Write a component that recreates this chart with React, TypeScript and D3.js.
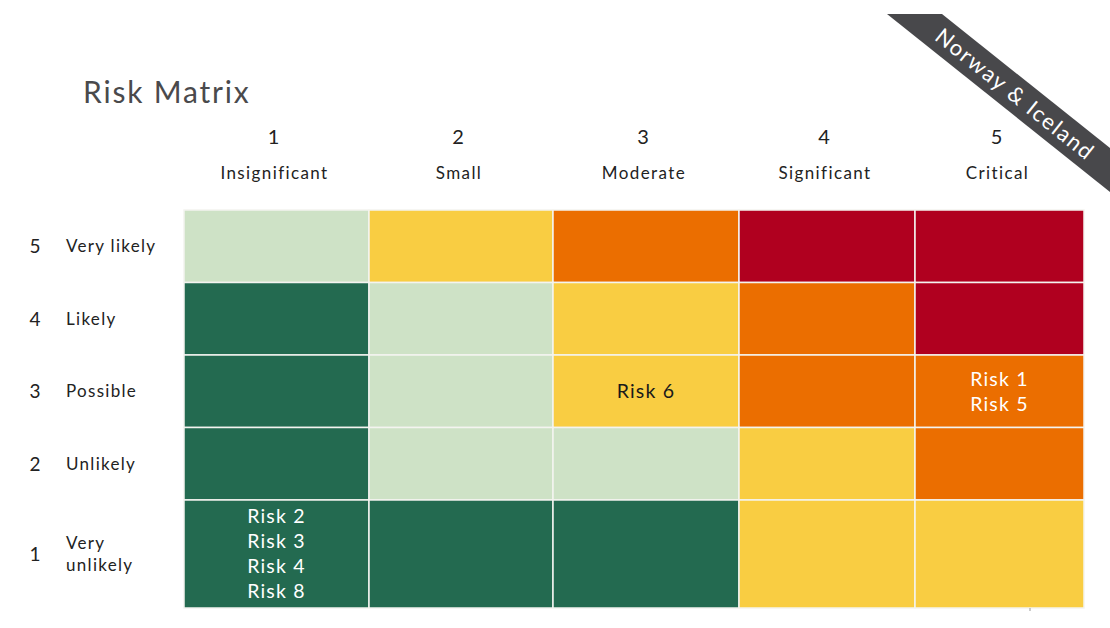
import React from "react";
import * as d3 from "d3";

// Impact (columns) and likelihood (rows)
const IMPACT_NUMS = [1, 2, 3, 4, 5];
const IMPACT_LABELS = ["Insignificant", "Small", "Moderate", "Significant", "Critical"];
const LIKELIHOOD_NUMS = [5, 4, 3, 2, 1];
const LIKELIHOOD_LABELS = [["Very likely"], ["Likely"], ["Possible"], ["Unlikely"], ["Very", "unlikely"]];

// Risk level per cell, rows top (5) to bottom (1), columns 1..5
const LEVELS = [
  [1, 2, 3, 4, 4],
  [0, 1, 2, 3, 4],
  [0, 1, 2, 3, 3],
  [0, 1, 1, 2, 3],
  [0, 0, 0, 2, 2],
];

// Risks placed on the grid: [name, likelihood, impact]
const RISKS: [string, number, number][] = [
  ["Risk 1", 3, 5],
  ["Risk 5", 3, 5],
  ["Risk 6", 3, 3],
  ["Risk 2", 1, 1],
  ["Risk 3", 1, 1],
  ["Risk 4", 1, 1],
  ["Risk 8", 1, 1],
];

// relative sizes of columns / rows as in the original slide
const COL_WEIGHTS = [185, 184, 186, 176, 169];
const ROW_WEIGHTS = [1, 1, 1, 1, 1.49];

const LEVEL_COLORS = ["#236a50", "#cee2c6", "#f9cd42", "#eb6e00", "#b0001f"];
const LEVEL_TEXT = ["#ffffff", "#1a1a1a", "#1a1a1a", "#ffffff", "#ffffff"];

const FONT = "Lato, 'Open Sans', sans-serif";

export default function App() {
  const W = 1110;
  const H = 628;
  const left = 184, right = 1084, top = 210, bottom = 608;

  const colEdges = d3.cumsum([0, ...COL_WEIGHTS]);
  const rowEdges = d3.cumsum([0, ...ROW_WEIGHTS]);
  const x = d3.scaleLinear().domain([0, d3.sum(COL_WEIGHTS)]).range([left, right]);
  const y = d3.scaleLinear().domain([0, d3.sum(ROW_WEIGHTS)]).range([top, bottom]);

  const colX = (i: number) => x(colEdges[i]);
  const colMid = (i: number) => (x(colEdges[i]) + x(colEdges[i + 1])) / 2;
  const rowY = (j: number) => y(rowEdges[j]);
  const rowMid = (j: number) => (y(rowEdges[j]) + y(rowEdges[j + 1])) / 2;

  // group risks per cell
  const grouped = d3.group(RISKS, (d) => `${d[1]}-${d[2]}`);

  // ribbon in the top right corner
  const angle = 38.6;
  const slope = Math.tan((angle * Math.PI) / 180);
  const rx0 = 887, rx1 = 942, ry = 14;
  const ribbon = d3.path();
  ribbon.moveTo(rx0, ry);
  ribbon.lineTo(rx1, ry);
  ribbon.lineTo(W, ry + (W - rx1) * slope);
  ribbon.lineTo(W, ry + (W - rx0) * slope);
  ribbon.closePath();
  const rcx = 1015, rcy = ry + (1015 - (rx0 + rx1) / 2) * slope;

  return (
    <svg
      width={W}
      height={H}
      style={{ position: "absolute", left: 0, top: 0, background: "#fff" }}
      fontFamily={FONT}
    >
      <text x={83} y={103} fontSize={30} fill="#4a4a4c" letterSpacing={1.8}>
        Risk Matrix
      </text>

      {IMPACT_NUMS.map((n, i) => (
        <g key={"h" + i}>
          <text x={colMid(i) - 3} y={144} fontSize={20} textAnchor="middle" fill="#222">
            {n}
          </text>
          <text x={colMid(i) - 2} y={179} fontSize={17} textAnchor="middle" fill="#222" letterSpacing={1.4}>
            {IMPACT_LABELS[i]}
          </text>
        </g>
      ))}

      {LIKELIHOOD_NUMS.map((n, j) => {
        const lines = LIKELIHOOD_LABELS[j];
        const cy = rowMid(j);
        return (
          <g key={"r" + j}>
            <text x={35} y={cy + 7} fontSize={19} textAnchor="middle" fill="#222">
              {n}
            </text>
            {lines.map((l, k) => (
              <text
                key={k}
                x={66}
                y={cy + 6 + (k - (lines.length - 1) / 2) * 22}
                fontSize={17}
                fill="#222"
                letterSpacing={1.3}
              >
                {l}
              </text>
            ))}
          </g>
        );
      })}

      {LEVELS.map((row, j) =>
        row.map((lv, i) => (
          <rect
            key={`c${j}-${i}`}
            x={colX(i)}
            y={rowY(j)}
            width={colX(i + 1) - colX(i)}
            height={rowY(j + 1) - rowY(j)}
            fill={LEVEL_COLORS[lv]}
            stroke="#f4f4f0"
            strokeWidth={1.5}
          />
        ))
      )}

      {Array.from(grouped.entries()).map(([key, list]) => {
        const [lk, im] = key.split("-").map(Number);
        const j = LIKELIHOOD_NUMS.indexOf(lk);
        const i = IMPACT_NUMS.indexOf(im);
        const lv = LEVELS[j][i];
        const cy = rowMid(j);
        return (
          <g key={key}>
            {list.map((r, k) => (
              <text
                key={r[0]}
                x={colMid(i)}
                y={cy + 7 + (k - (list.length - 1) / 2) * 25}
                fontSize={19.5}
                textAnchor="middle"
                fill={LEVEL_TEXT[lv]}
                letterSpacing={1.2}
              >
                {r[0]}
              </text>
            ))}
          </g>
        );
      })}

      <line x1={1030} x2={1030} y1={608} y2={611} stroke="#999" strokeWidth={1} />

      <path d={ribbon.toString()} fill="#48484b" />
      <text
        x={rcx}
        y={rcy}
        transform={`rotate(${angle},${rcx},${rcy})`}
        textAnchor="middle"
        dy="0.35em"
        fontSize={22}
        fill="#fff"
        letterSpacing={1.6}
      >
        Norway &amp; Iceland
      </text>
    </svg>
  );
}
